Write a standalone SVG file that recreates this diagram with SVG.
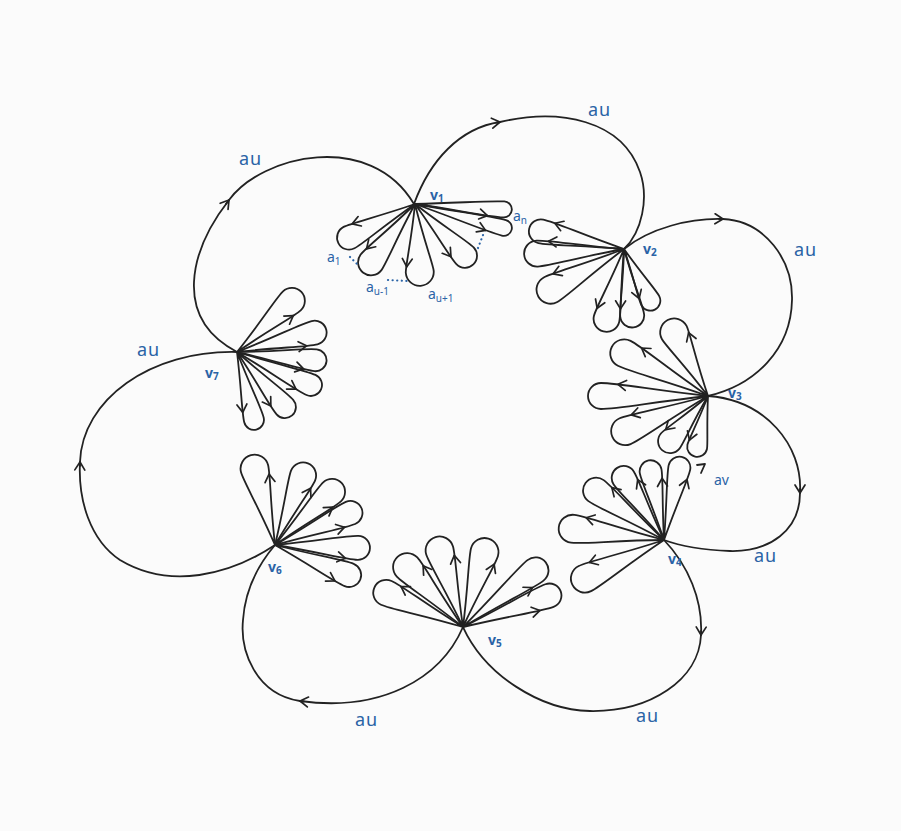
<svg xmlns="http://www.w3.org/2000/svg" width="901" height="831" viewBox="0 0 901 831">
<style>
.ln{fill:none;stroke:#222;stroke-width:1.8;stroke-linecap:round;stroke-linejoin:round}
.pt{marker-end:url(#ar)}
.lb{font-family:"Noto Sans","DejaVu Sans",sans-serif;fill:#2a63a6;font-size:18px;letter-spacing:1px}
.vl{font-family:"Noto Sans","DejaVu Sans",sans-serif;fill:#2a63a6;font-size:14px;font-weight:bold}
.al{font-family:"Noto Sans","DejaVu Sans",sans-serif;fill:#2a63a6;font-size:14px}
.dt{fill:none;stroke:#2a63a6;stroke-width:2.2;stroke-linecap:round;stroke-dasharray:0.1 4.5}
</style>
<defs>
<marker id="ar" viewBox="-9 -6 10 12" refX="0" refY="0" markerWidth="10" markerHeight="12" markerUnits="userSpaceOnUse" orient="auto" overflow="visible">
<path d="M-8,-5L0,0L-8,5" fill="none" stroke="#222" stroke-width="1.7" stroke-linecap="round" stroke-linejoin="round"/>
</marker>
</defs>
<rect width="901" height="831" fill="#fbfbfb"/>

<g id="connectors">
<path class="ln" d="M237,352C172,318 190,250 229,200C262,155 370,130 414,204"/>
<path class="ln pt" d="M225.9,204L229,200"/>
<path class="ln" d="M414,204C430,160 460,128 500,122C560,108 622,120 640,172C649,198 642,232 624,249"/>
<path class="ln pt" d="M496,122.6L500,122"/>
<path class="ln" d="M624,249C650,228 690,218 723,219C765,221 793,260 792,300C791,350 755,385 708,396"/>
<path class="ln pt" d="M719,218.9L723,219"/>
<path class="ln" d="M708,396C765,400 803,445 800,493C800,530 770,552 730,551C705,550 683,547 664,540"/>
<path class="ln pt" d="M800,489L800,493"/>
<path class="ln" d="M664,540C688,565 703,600 701,635C699,680 650,712 590,711C540,710 485,675 463,627"/>
<path class="ln pt" d="M701.1,631L701,635"/>
<path class="ln" d="M463,627C440,680 380,712 300,701C255,694 240,650 243,620C245,590 258,565 275,545"/>
<path class="ln pt" d="M304,701.5L300,701"/>
<path class="ln" d="M275,545C230,575 170,590 120,560C90,540 78,500 80,462C82,400 150,350 237,352"/>
<path class="ln pt" d="M79.9,466L80,462"/>
<text class="lb" x="239" y="165">au</text>
<text class="lb" x="588" y="116">au</text>
<text class="lb" x="794" y="256">au</text>
<text class="lb" x="754" y="562">au</text>
<text class="lb" x="636" y="722">au</text>
<text class="lb" x="355" y="726">au</text>
<text class="lb" x="137" y="356">au</text>
</g>

<g id="v1" transform="translate(415,204)">
<path class="ln pt" transform="rotate(153)" d="M0,0C39,-5.4 65,-12 74,-12A12,12 0 0 1 74,12C65,12 39,5.4 0,0M64,10.66L65,10.8"/>
<path class="ln pt" transform="rotate(127)" d="M0,0C39,-5.85 65,-13 73,-13A13,13 0 0 1 73,13C65,13 39,5.85 0,0M64,11.56L65,11.7"/>
<path class="ln pt" transform="rotate(86)" d="M0,0C37,-6.3 62,-14 68,-14A14,14 0 0 1 68,14C62,14 37,6.3 0,0M61,12.46L62,12.6"/>
<path class="ln pt" transform="rotate(46)" d="M0,0C38,-5.4 63,-12 72,-12A12,12 0 0 1 72,12C63,12 38,5.4 0,0M62,10.66L63,10.8"/>
<path class="ln pt" transform="rotate(15)" d="M0,0C45,-3.6 75,-8 92,-8A8,8 0 0 1 92,8C75,8 45,3.6 0,0M74,7.06L75,7.2"/>
<path class="ln pt" transform="rotate(3.5)" d="M0,0C44,-3.6 73,-8 89,-8A8,8 0 0 1 89,8C73,8 44,3.6 0,0M72,7.06L73,7.2"/>
<text class="vl" x="15" y="-4">v<tspan font-size="10" dy="2">1</tspan></text>
<text class="al" x="-88" y="58">a<tspan font-size="10" dy="3">1</tspan></text>
<text class="al" x="-49" y="88">a<tspan font-size="10" dy="3">u-1</tspan></text>
<text class="al" x="13" y="95">a<tspan font-size="10" dy="3">u+1</tspan></text>
<text class="al" x="98" y="17">a<tspan font-size="10" dy="3">n</tspan></text>
<path class="dt" d="M-65,53L-58,60"/>
<path class="dt" d="M-27,76L-8,77"/>
<path class="dt" d="M63,44L68,31"/>
</g>

<g id="v2" transform="translate(624,249)">
<path class="ln pt" transform="rotate(192)" d="M0,0C44,-5.4 73,-12 85,-12A12,12 0 0 1 85,12C73,12 44,5.4 0,0M72,10.66L73,10.8"/>
<path class="ln pt" transform="rotate(177)" d="M0,0C45,-5.85 75,-13 87,-13A13,13 0 0 1 87,13C75,13 45,5.85 0,0M74,11.56L75,11.7"/>
<path class="ln pt" transform="rotate(151)" d="M0,0C44,-6.3 74,-14 84,-14A14,14 0 0 1 84,14C74,14 44,6.3 0,0M73,12.46L74,12.6"/>
<path class="ln pt" transform="rotate(104)" d="M0,0C38,-5.85 64,-13 72,-13A13,13 0 0 1 72,13C64,13 38,5.85 0,0M63,11.56L64,11.7"/>
<path class="ln pt" transform="rotate(83)" d="M0,0C36,-5.4 59,-12 67,-12A12,12 0 0 1 67,12C59,12 36,5.4 0,0M58,10.66L59,10.8"/>
<path class="ln pt" transform="rotate(63)" d="M0,0C31,-4.5 51,-10 58,-10A10,10 0 0 1 58,10C51,10 31,4.5 0,0M50,8.86L51,9"/>
<text class="vl" x="19" y="5">v<tspan font-size="10" dy="2">2</tspan></text>
</g>

<g id="v3" transform="translate(708,396)">
<path class="ln pt" transform="rotate(242)" d="M0,0C39,-6.3 65,-14 72,-14A14,14 0 0 1 72,14C65,14 39,6.3 0,0M64,12.46L65,12.6"/>
<path class="ln pt" transform="rotate(207)" d="M0,0C49,-6.3 81,-14 94,-14A14,14 0 0 1 94,14C81,14 49,6.3 0,0M80,12.46L81,12.6"/>
<path class="ln pt" transform="rotate(180)" d="M0,0C54,-5.85 90,-13 107,-13A13,13 0 0 1 107,13C90,13 54,5.85 0,0M89,11.56L90,11.7"/>
<path class="ln pt" transform="rotate(157)" d="M0,0C47,-6.3 78,-14 90,-14A14,14 0 0 1 90,14C78,14 47,6.3 0,0M77,12.46L78,12.6"/>
<path class="ln pt" transform="rotate(130)" d="M0,0C32,-5.4 53,-12 59,-12A12,12 0 0 1 59,12C53,12 32,5.4 0,0M52,10.66L53,10.8"/>
<path class="ln pt" transform="rotate(102)" d="M0,0C28,-4.5 47,-10 52,-10A10,10 0 0 1 52,10C47,10 28,4.5 0,0M46,8.86L47,9"/>
<path class="ln" d="M-11,69L-3,68L-7,77"/>
<text class="vl" x="20" y="2">v<tspan font-size="10" dy="2">3</tspan></text>
<text class="al" x="6" y="89">av</text>
</g>

<g id="v4" transform="translate(664,540)">
<path class="ln pt" transform="rotate(282)" d="M0,0C38,-4.95 64,-11 74,-11A11,11 0 0 1 74,11C64,11 38,4.95 0,0M63,9.76L64,9.9"/>
<path class="ln pt" transform="rotate(259)" d="M0,0C36,-4.95 61,-11 70,-11A11,11 0 0 1 70,11C61,11 36,4.95 0,0M60,9.76L61,9.9"/>
<path class="ln pt" transform="rotate(237)" d="M0,0C39,-5.4 65,-12 74,-12A12,12 0 0 1 74,12C65,12 39,5.4 0,0M64,10.66L65,10.8"/>
<path class="ln pt" transform="rotate(216)" d="M0,0C44,-5.85 73,-13 84,-13A13,13 0 0 1 84,13C73,13 44,5.85 0,0M72,11.56L73,11.7"/>
<path class="ln pt" transform="rotate(187)" d="M0,0C48,-6.3 80,-14 92,-14A14,14 0 0 1 92,14C80,14 48,6.3 0,0M79,12.46L80,12.6"/>
<path class="ln pt" transform="rotate(154)" d="M0,0C46,-6.3 77,-14 88,-14A14,14 0 0 1 88,14C77,14 46,6.3 0,0M76,12.46L77,12.6"/>
<text class="vl" x="4" y="24">v<tspan font-size="10" dy="2">4</tspan></text>
</g>

<g id="v5" transform="translate(463,627)">
<path class="ln pt" transform="rotate(204)" d="M0,0C44,-5.85 73,-13 84,-13A13,13 0 0 1 84,13C73,13 44,5.85 0,0M72,11.56L73,11.7"/>
<path class="ln pt" transform="rotate(227)" d="M0,0C43,-6.3 72,-14 82,-14A14,14 0 0 1 82,14C72,14 43,6.3 0,0M71,12.46L72,12.6"/>
<path class="ln pt" transform="rotate(253)" d="M0,0C42,-6.3 71,-14 80,-14A14,14 0 0 1 80,14C71,14 42,6.3 0,0M70,12.46L71,12.6"/>
<path class="ln pt" transform="rotate(286)" d="M0,0C41,-6.3 69,-14 78,-14A14,14 0 0 1 78,14C69,14 41,6.3 0,0M68,12.46L69,12.6"/>
<path class="ln pt" transform="rotate(322)" d="M0,0C47,-5.85 79,-13 92,-13A13,13 0 0 1 92,13C79,13 47,5.85 0,0M78,11.56L79,11.7"/>
<path class="ln pt" transform="rotate(340)" d="M0,0C47,-5.4 78,-12 92,-12A12,12 0 0 1 92,12C78,12 47,5.4 0,0M77,10.66L78,10.8"/>
<text class="vl" x="25" y="18">v<tspan font-size="10" dy="2">5</tspan></text>
</g>

<g id="v6" transform="translate(275,545)">
<path class="ln pt" transform="rotate(255)" d="M0,0C42,-6.3 70,-14 79,-14A14,14 0 0 1 79,14C70,14 42,6.3 0,0M69,12.46L70,12.6"/>
<path class="ln pt" transform="rotate(292)" d="M0,0C40,-5.85 66,-13 75,-13A13,13 0 0 1 75,13C66,13 40,5.85 0,0M65,11.56L66,11.7"/>
<path class="ln pt" transform="rotate(317)" d="M0,0C41,-5.85 68,-13 78,-13A13,13 0 0 1 78,13C68,13 41,5.85 0,0M67,11.56L68,11.7"/>
<path class="ln pt" transform="rotate(337)" d="M0,0C42,-5.4 71,-12 82,-12A12,12 0 0 1 82,12C71,12 42,5.4 0,0M70,10.66L71,10.8"/>
<path class="ln pt" transform="rotate(2)" d="M0,0C43,-5.4 71,-12 83,-12A12,12 0 0 1 83,12C71,12 43,5.4 0,0M70,10.66L71,10.8"/>
<path class="ln pt" transform="rotate(22)" d="M0,0C41,-5.4 69,-12 80,-12A12,12 0 0 1 80,12C69,12 41,5.4 0,0M68,10.66L69,10.8"/>
<text class="vl" x="-7" y="27">v<tspan font-size="10" dy="2">6</tspan></text>
</g>

<g id="v7" transform="translate(237,352)">
<path class="ln pt" transform="rotate(317)" d="M0,0C40,-5.85 66,-13 75,-13A13,13 0 0 1 75,13C66,13 40,5.85 0,0M65,11.56L66,11.7"/>
<path class="ln pt" transform="rotate(346)" d="M0,0C41,-5.4 69,-12 80,-12A12,12 0 0 1 80,12C69,12 41,5.4 0,0M68,10.66L69,10.8"/>
<path class="ln pt" transform="rotate(6)" d="M0,0C41,-4.95 68,-11 79,-11A11,11 0 0 1 79,11C68,11 41,4.95 0,0M67,9.76L68,9.9"/>
<path class="ln pt" transform="rotate(24)" d="M0,0C41,-4.95 69,-11 81,-11A11,11 0 0 1 81,11C69,11 41,4.95 0,0M68,9.76L69,9.9"/>
<path class="ln pt" transform="rotate(49)" d="M0,0C38,-4.95 63,-11 73,-11A11,11 0 0 1 73,11C63,11 38,4.95 0,0M62,9.76L63,9.9"/>
<path class="ln pt" transform="rotate(76)" d="M0,0C36,-4.5 60,-10 70,-10A10,10 0 0 1 70,10C60,10 36,4.5 0,0M59,8.86L60,9"/>
<text class="vl" x="-32" y="26">v<tspan font-size="10" dy="2">7</tspan></text>
</g>
</svg>
